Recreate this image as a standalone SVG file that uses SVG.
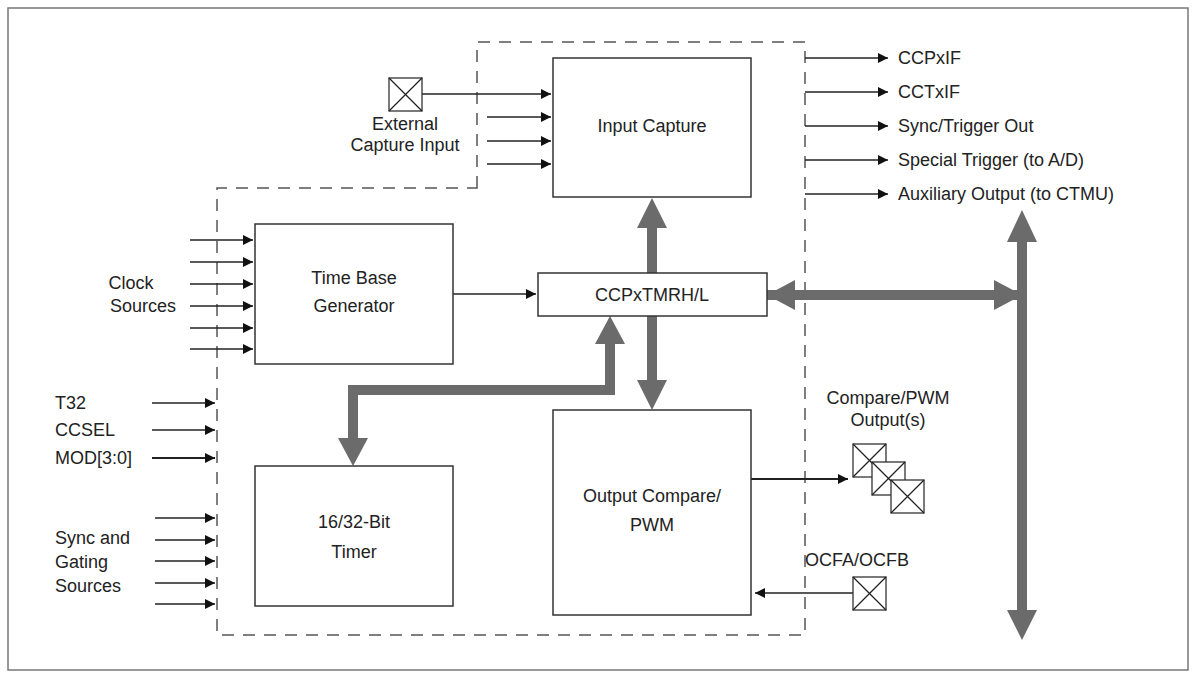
<svg xmlns="http://www.w3.org/2000/svg" width="1196" height="679" viewBox="0 0 1196 679">
<style>
text{font-family:"Liberation Sans",Arial,sans-serif;font-size:18px;fill:#222}
.b{fill:#fff;stroke:#333;stroke-width:1.5}
.l{stroke:#222;stroke-width:1.3;fill:none}
.d{stroke:#555;stroke-width:1.5;fill:none;stroke-dasharray:12 9}
.g{stroke:#6b6b6b;stroke-width:10;fill:none}
.pad{fill:#fff;stroke:#333;stroke-width:1.3}
</style>
<defs>
<marker id="a" viewBox="0 0 10 10" refX="10" refY="5" markerWidth="17" markerHeight="10" markerUnits="userSpaceOnUse" orient="auto-start-reverse"><path d="M0,0L10,5L0,10z" fill="#111"/></marker>
<g id="x"><rect class="pad" x="0" y="0" width="33" height="33"/><path class="l" d="M0,0L33,33M33,0L0,33"/></g>
</defs>
<rect x="8" y="8" width="1180" height="662" fill="#fff" stroke="#777" stroke-width="1.5"/>
<path class="d" d="M477,188V42H805V635H217V188Z"/>
<g id="connectors">
<g class="l" marker-end="url(#a)">
<path d="M422,94H551"/><path d="M487,117H551"/><path d="M487,141H551"/><path d="M487,164H551"/>
<path d="M805,58H888"/><path d="M805,92H888"/><path d="M805,126H888"/><path d="M805,160H888"/><path d="M805,194H888"/>
<path d="M190,240H253"/><path d="M190,262H253"/><path d="M190,284H253"/><path d="M190,306H253"/><path d="M190,328H253"/><path d="M190,349H253"/>
<path d="M152,403H215"/><path d="M152,430H215"/><path d="M152,458H215" stroke-width="2"/>
<path d="M155,518H215"/><path d="M155,540H215"/><path d="M155,561H215"/><path d="M155,583H215"/><path d="M155,604H215"/>
<path d="M453,294H536"/>
<path d="M751,479H848" stroke-width="2"/>
<path d="M853,593H755"/>
</g>
<g fill="#6b6b6b">
<path class="g" d="M652,273V225"/><path d="M637,228L652,198L667,228Z"/>
<path class="g" d="M652,316V382"/><path d="M637,380L652,410L667,380Z"/>
<path d="M767,290H1022V300H767Z"/><path d="M767,295L795,280V310Z"/><path d="M1022,295L994,280V310Z"/>
<path d="M1017,240H1027V612H1017Z"/><path d="M1022,210L1037,242H1007Z"/><path d="M1022,640L1037,610H1007Z"/>
<path class="g" d="M610,340V390H353V440"/><path d="M595,344L610,316L625,344Z"/><path d="M338,438L353,466L368,438Z"/>
</g>
</g>
<g id="input-capture"><rect class="b" x="553" y="58" width="198" height="139"/><text x="652" y="132" text-anchor="middle">Input Capture</text></g>
<g id="ext-capture"><use href="#x" x="389" y="78"/><text x="405" y="130" text-anchor="middle">External</text><text x="405" y="151" text-anchor="middle">Capture Input</text></g>
<g id="time-base"><rect class="b" x="255" y="224" width="198" height="140"/><text x="354" y="284" text-anchor="middle">Time Base</text><text x="354" y="312" text-anchor="middle">Generator</text></g>
<g id="ccptmr"><rect class="b" x="538" y="273" width="229" height="43"/><text x="652" y="301" text-anchor="middle">CCPxTMRH/L</text></g>
<g id="timer"><rect class="b" x="255" y="466" width="198" height="140"/><text x="354" y="528" text-anchor="middle">16/32-Bit</text><text x="354" y="558" text-anchor="middle">Timer</text></g>
<g id="output-compare"><rect class="b" x="553" y="410" width="198" height="205"/><text x="652" y="502" text-anchor="middle">Output Compare/</text><text x="652" y="531" text-anchor="middle">PWM</text></g>
<g id="outputs"><text x="898" y="64">CCPxIF</text><text x="898" y="98">CCTxIF</text><text x="898" y="132">Sync/Trigger Out</text><text x="898" y="166">Special Trigger (to A/D)</text><text x="898" y="200">Auxiliary Output (to CTMU)</text></g>
<g id="pwm-pads"><text x="888" y="404" text-anchor="middle">Compare/PWM</text><text x="888" y="426" text-anchor="middle">Output(s)</text><use href="#x" x="853" y="444"/><use href="#x" x="872" y="462"/><use href="#x" x="891" y="480"/></g>
<g id="ocf"><text x="857" y="566" text-anchor="middle">OCFA/OCFB</text><use href="#x" x="853" y="577"/></g>
<g id="left-labels"><text x="131" y="289" text-anchor="middle">Clock</text><text x="143" y="312" text-anchor="middle">Sources</text>
<text x="55" y="409">T32</text><text x="55" y="436">CCSEL</text><text x="55" y="464">MOD[3:0]</text>
<text x="55" y="544">Sync and</text><text x="55" y="568">Gating</text><text x="55" y="592">Sources</text></g>
</svg>
